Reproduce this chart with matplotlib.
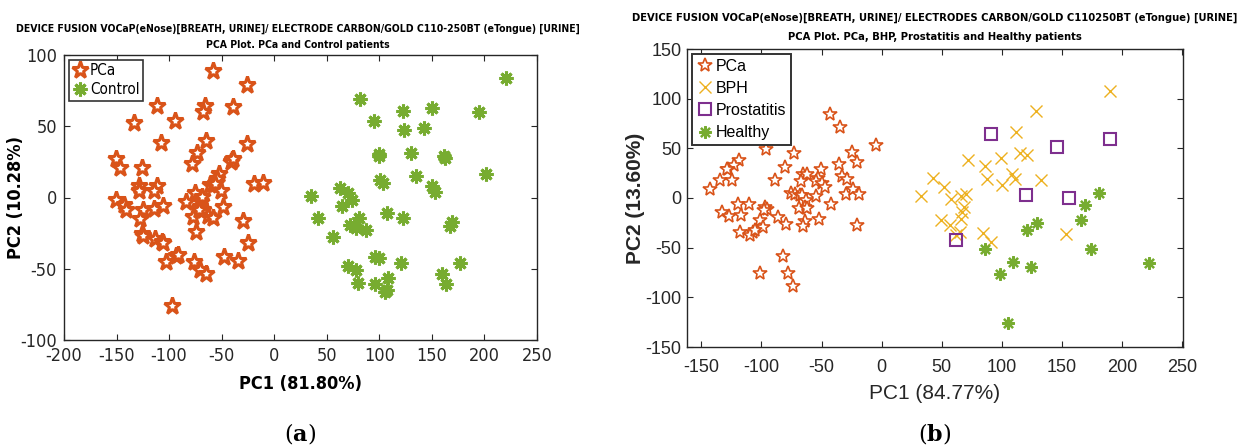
import matplotlib
matplotlib.use("Agg")
import matplotlib.pyplot as plt
from matplotlib import font_manager

# ---- panel (a): PCa vs Control ----
pca_a_x = [-58.7, -26, -111.6, -66.3, -68.2, -39, -133.5, -94.5, -107.8, -65.3, -26.3, -73.6,
           -78.3, -40, -41.5, -39, -150.6, -146.8, -125.9, -52.3, -54.9, -61, -58, -56, -19.3,
           -10.8, -128.4, -128.7, -111.9, -114.1, -50.4, -75.8, -150.9, -142.7, -141.1, -124.6,
           -127.5, -114.1, -105.9, -84, -69.4, -70.7, -68.2, -77, -62.8, -58, -49.1, -29.5,
           -74.5, -126.2, -124.6, -113.5, -107.2, -105.6, -24.7, -47.6, -34.2, -103, -93.9,
           -91.3, -76.4, -70.7, -65.3, -97.7, -68.8, -72]
pca_a_y = [88.6, 79, 63.9, 64.1, 59.7, 63.4, 52.2, 53.6, 38, 39.4, 37.8, 31.5,
           23.8, 26, 25, 27, 27, 21, 21, 16.8, 13.3, 9, 8.6, 9.8, 9.3,
           10.5, 8.4, 4.9, 7.9, 4.4, 4.7, 3.5, -2.1, -5.6, -8.9, -8.9,
           -14.9, -8.2, -5.8, -3.3, -3, -6.5, -8.9, -13.5, -12.8, -14.7, -6.8, -16.3,
           -24, -25.6, -27, -29.4, -31, -32.2, -32.2, -42, -44.5, -45.2, -40.8,
           -40.1, -45, -50.8, -53.8, -76, 0.5, -9]

ctrl_x = [220.3, 81.6, 122.2, 150, 195.1, 94.6, 123.4, 142.7, 99.4, 100, 130.4, 161.7, 162,
          134.5, 201.9, 100.6, 103.2, 150, 153.2, 35.1, 62.7, 70.3, 74.1, 64.9, 41.8, 107.6,
          122.2, 80.4, 72.5, 77.5, 87, 55.7, 168.7, 167.1, 95.9, 99.4, 120.6, 176.9, 70.3,
          77.5, 159.2, 80.1, 95.9, 108.5, 163.9, 105, 107]
ctrl_y = [83.9, 69.2, 60.6, 62.7, 59.7, 53.4, 47.1, 49, 30.3, 29.4, 31.2, 29.1, 28,
          15.2, 16.6, 12.1, 10.5, 8.4, 4, 0.9, 6.5, 3.5, -1.9, -6.1, -14.2, -10.7,
          -14.7, -14.7, -19.3, -21.2, -23.1, -27.7, -17.2, -20, -42, -42.4, -46.2, -45.9, -48,
          -50.8, -54, -60.1, -60.6, -56.4, -61, -66.4, -64.8]

# ---- panel (b): PCa, BPH, Prostatitis, Healthy ----
pca_b_x = [-43.2, -34.6, -5, -96.6, -72.8, -24.6, -20.5, -80.5, -35.4, -118.5, -122.6, -127.6,
           -129, -134.5, -124.6, -142.5, -89.1, -65.3, -62.3, -67.3, -50.1, -52.6, -54.2,
           -49.8, -47, -32.9, -28.5, -29.9, -23.8, -19.1, -75.6, -72, -68.1, -65.9, -54.8,
           -63.1, -63.7, -68.6, -61.7, -42.3, -119.6, -110.7, -132.9, -126.8, -117.1, -96.9,
           -95.8, -97.7, -86.1, -79.2, -52, -63.7, -65, -20.8, -101, -99.1, -117.9, -107.4,
           -109.3, -105.2, -82.2, -101.3, -78.3, -73.9]
pca_b_y = [84.9, 71.5, 53, 49, 45.6, 46.3, 36.2, 31.2, 34.6, 37.9, 32.9, 29.5,
           29, 17.8, 17.8, 8.7, 17.8, 24.5, 24.5, 16.8, 28.9, 20.1, 16.8,
           15.4, 11, 22.1, 19.5, 4.4, 8.7, 3.7, 5.4, 4.4, 3.4, 3.4, 2,
           -2.3, -9, -10, -10, -6.4, -5.7, -5.7, -14.1, -18.1, -17.4, -9,
           -10.7, -12.4, -19.1, -25.8, -20.8, -23.5, -28.5, -26.8, -22.5, -29.2, -34.2, -34.2,
           -37.6, -32.6, -58.7, -75.5, -75.5, -88.9]

bph_x = [190, 128.3, 111.7, 115, 121.4, 99.4, 72.2, 86.1, 88.1, 108.9, 111.1, 100, 132.5,
         42.8, 32.9, 52.2, 57.8, 65.8, 70, 68.6, 66.7, 66.1, 49.2, 56.7, 65, 62.2, 84.4,
         90.8, 153.9]
bph_y = [108, 88, 66.9, 45.5, 43.5, 40.1, 37.8, 32.1, 18.7, 24.4, 18.7, 13.4, 18.4,
         20.1, 2, 11, -0.7, 2, 3.7, -9, -14, -20.7, -22.4, -27.4, -34.1, -37.5, -35.1,
         -44.1, -35.8]

prost_x = [91.4, 145.8, 190, 120, 156.4, 61.7]
prost_y = [64.5, 51.8, 58.9, 2.7, 0.3, -42.5]

healthy_x = [181.1, 169.4, 165.8, 129.2, 121.4, 174.7, 85.8, 109.7, 124.2, 98.3, 223.1, 105.3]
healthy_y = [5, -6.7, -22.4, -24.7, -32.4, -51.8, -51.5, -64.2, -69.2, -76.6, -65.9, -125.4]

titles_a = ["DEVICE FUSION VOCaP(eNose)[BREATH, URINE]/ ELECTRODE CARBON/GOLD C110-250BT (eTongue) [URINE]",
            "PCA Plot. PCa and Control patients"]
titles_b = ["DEVICE FUSION VOCaP(eNose)[BREATH, URINE]/ ELECTRODES CARBON/GOLD C110250BT (eTongue) [URINE]",
            "PCA Plot. PCa, BHP, Prostatitis and Healthy patients"]

ORANGE = "#D95319"
GREEN = "#77AC30"
YELLOW = "#EDB120"
PURPLE = "#7E2F8E"
ASTER = (8, 2, 0)  # matlab-like asterisk

plt.rcParams["font.family"] = ["Liberation Sans", "DejaVu Sans"]
plt.rcParams["mathtext.fontset"] = "dejavuserif"
plt.rcParams["axes.unicode_minus"] = False

# condensed face for panel a (DejaVu Sans Condensed if the system has it)
cond = dict(family="DejaVu Sans", stretch="condensed")
has_cond = any(f.name == "DejaVu Sans" and f.stretch == "condensed"
               for f in font_manager.fontManager.ttflist)
if not has_cond:
    cond = dict(family="Liberation Sans")

W, H = 1247, 446
fig = plt.figure(figsize=(W / 100, H / 100), dpi=100)


def box(x0, y0, x1, y1):
    # pixel box -> figure fraction
    return [x0 / W, 1 - y1 / H, (x1 - x0) / W, (y1 - y0) / H]


def style_axes(ax, font, size, pad):
    ax.tick_params(direction="in", top=True, right=True, length=4, width=0.8,
                   labelsize=size, colors="#262626", pad=pad)
    for lab in ax.get_xticklabels() + ax.get_yticklabels():
        lab.set_fontproperties(font_manager.FontProperties(size=size, **font))
    for s in ax.spines.values():
        s.set_linewidth(1.0)
        s.set_color("#262626")


# panel a
ax1 = fig.add_axes(box(64, 55, 537, 340))
ax1.plot(pca_a_x, pca_a_y, ls="none", marker="*", ms=12.5, mfc="white", mec=ORANGE,
         mew=2.2, label="PCa")
ax1.plot(ctrl_x, ctrl_y, ls="none", marker=ASTER, ms=10, mec=GREEN, mew=2.2, label="Control")
ax1.set_xlim(-200, 250)
ax1.set_ylim(-100, 100)
ax1.set_xticks(range(-200, 251, 50))
ax1.set_yticks([-100, -50, 0, 50, 100])
style_axes(ax1, cond, 13, 5)
ax1.set_xlabel("PC1 (81.80%)", fontsize=13, fontweight="bold", **cond)
ax1.set_ylabel("PC2 (10.28%)", fontsize=13, fontweight="bold", **cond)
ax1.xaxis.set_label_coords(0.5, -0.123)
ax1.yaxis.set_label_coords(-0.083, 0.5)
leg1 = ax1.legend(loc="upper left", prop=font_manager.FontProperties(size=11, **cond),
                  handletextpad=0.15, borderpad=0.25, labelspacing=0.25, handlelength=1.0,
                  borderaxespad=0.3, fancybox=False, framealpha=1)
leg1.get_frame().set_edgecolor("#333333")
leg1.get_frame().set_linewidth(1.2)
fig.text(298 / W, 1 - 29 / H, titles_a[0], ha="center", va="center", fontsize=7.5,
         fontweight="bold", **cond)
fig.text(298 / W, 1 - 45 / H, titles_a[1], ha="center", va="center", fontsize=7.5,
         fontweight="bold", **cond)
fig.text(300 / W, 1 - 433 / H, r"$(\mathbf{a})$", ha="center", va="center", fontsize=16)

# panel b
ax2 = fig.add_axes(box(687, 49, 1183, 347))
ax2.plot(pca_b_x, pca_b_y, ls="none", marker="*", ms=10, mfc="white", mec=ORANGE,
         mew=1.2, label="PCa")
ax2.plot(bph_x, bph_y, ls="none", marker="x", ms=8, mec=YELLOW, mew=1.0, label="BPH")
ax2.plot(prost_x, prost_y, ls="none", marker="s", ms=8, mfc="none", mec=PURPLE, mew=1.5,
         label="Prostatitis")
ax2.plot(healthy_x, healthy_y, ls="none", marker=ASTER, ms=9, mec=GREEN, mew=1.6,
         label="Healthy")
ax2.set_xlim(-162, 251)
ax2.set_ylim(-150, 150)
ax2.set_xticks(range(-150, 251, 50))
ax2.set_yticks(range(-150, 151, 50))
style_axes(ax2, dict(family="Liberation Sans"), 13, 9)
ax2.tick_params(axis="y", pad=4)
ax2.set_xlabel("PC1 (84.77%)", fontsize=15, color="#262626")
ax2.set_ylabel("PC2 (13.60%)", fontsize=15, fontweight="bold", color="#262626")
ax2.xaxis.set_label_coords(0.5, -0.124)
ax2.yaxis.set_label_coords(-0.085, 0.5)
leg2 = ax2.legend(loc="upper left", prop={"family": "Liberation Sans", "size": 11.5},
                  handletextpad=0.2, borderpad=0.3, labelspacing=0.45, handlelength=1.0,
                  borderaxespad=0.3, fancybox=False, framealpha=1)
leg2.get_frame().set_edgecolor("#333333")
leg2.get_frame().set_linewidth(1.4)
fig.text(935 / W, 1 - 18 / H, titles_b[0], ha="center", va="center", fontsize=8.0,
         fontweight="bold", **cond)
fig.text(935 / W, 1 - 37 / H, titles_b[1], ha="center", va="center", fontsize=8.0,
         fontweight="bold", **cond)
fig.text(935 / W, 1 - 433 / H, r"$(\mathbf{b})$", ha="center", va="center", fontsize=16)

fig.savefig("out.png", dpi=100, facecolor="white")
